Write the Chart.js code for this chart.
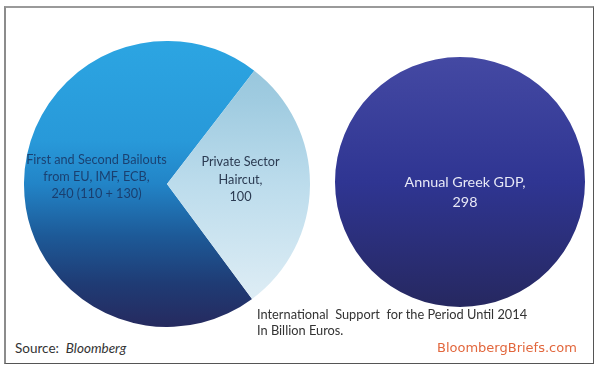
<!DOCTYPE html>
<html>
<head>
<meta charset="utf-8">
<script src="https://cdn.jsdelivr.net/npm/chart.js@4"></script>
<style>
  html, body { margin: 0; padding: 0; background: #fff; }
  #wrap { position: relative; width: 600px; height: 370px; overflow: hidden; font-family: Lato, "Open Sans", sans-serif; }
  #frame { position: absolute; left: 4px; top: 6px; width: 587px; height: 355px;
           border-left: 2px solid #8c8c8c; border-top: 2px solid #9a9a9a;
           border-right: 1px solid #555; border-bottom: 1px solid #555; }
  #pieLeft { position: absolute; left: 24px; top: 41px; }
  #pieRight { position: absolute; left: 335px; top: 57px; }
  .txt { position: absolute; white-space: pre; color: #333; }
  #brand { left: 437px; top: 340px; font-size: 13px; color: #e2673d; font-family: "DejaVu Sans", Verdana, sans-serif; }
</style>
</head>
<body>
<div id="wrap">
  <div id="frame"></div>
  <canvas id="pieLeft" width="286" height="286"></canvas>
  <canvas id="pieRight" width="250" height="250"></canvas>
  <div class="txt" style="left:257px; top:307px; font-size:12.8px; line-height:15.5px;">International  Support  for the Period Until 2014
In Billion Euros.</div>
  <div class="txt" style="left:15px; top:340px; font-size:13.5px;">Source:  <i>Bloomberg</i></div>
  <div class="txt" id="brand">BloombergBriefs.com</div>
</div>
<script>
// values in billion euros
const bailoutLabels = ['First and Second Bailouts from EU, IMF, ECB', 'Private Sector Haircut'];
const bailoutValues = [240, 100];
const bailoutText = [
    ['First and Second Bailouts', 'from EU, IMF, ECB,', '240 (110 + 130)'],
    ['Private Sector', 'Haircut,', '100']
];
const gdpLabels = ['Annual Greek GDP'];
const gdpValues = [298];
const gdpText = [['Annual Greek GDP,', '298']];

function vGradient(chart, stops) {
    const area = chart.chartArea;
    if (!area) return null;
    const g = chart.ctx.createLinearGradient(0, area.top, 0, area.bottom);
    stops.forEach(s => g.addColorStop(s[0], s[1]));
    return g;
}

const leftStops = [
    [[0, '#2ca5e2'], [0.35, '#2899d9'], [0.5, '#2284c7'], [0.68, '#1d5a98'], [0.85, '#1f3b74'], [1, '#262a5f']],
    [[0, '#93c3da'], [0.2, '#9fcbe0'], [0.5, '#bcdcec'], [1, '#e6f1f7']]
];
const rightStops = [[0, '#4449a3'], [0.5, '#2f3592'], [1, '#262860']];

// draws the multi-line labels inside each slice
function sliceLabels(lines, opts) {
    return {
        id: 'sliceLabels',
        afterDatasetsDraw(chart) {
            const ctx = chart.ctx;
            const meta = chart.getDatasetMeta(0);
            meta.data.forEach((arc, i) => {
                const o = opts[i];
                const pos = o.center ? { x: arc.x, y: arc.y } : arc.tooltipPosition();
                const lh = o.lineHeight;
                const n = lines[i].length;
                ctx.save();
                ctx.font = o.font;
                ctx.fillStyle = o.color;
                ctx.textAlign = 'center';
                ctx.textBaseline = 'middle';
                lines[i].forEach((t, k) => {
                    ctx.fillText(t, pos.x + o.dx, pos.y + o.dy + (k - (n - 1) / 2) * lh);
                });
                ctx.restore();
            });
        }
    };
}

new Chart(document.getElementById('pieLeft'), {
    type: 'pie',
    data: {
        labels: bailoutLabels,
        datasets: [{
            data: bailoutValues,
            backgroundColor: ctx => vGradient(ctx.chart, leftStops[ctx.dataIndex]),
            borderWidth: 0
        }]
    },
    options: {
        responsive: false,
        animation: false,
        rotation: 143.5,
        layout: { padding: 0 },
        plugins: { legend: { display: false }, tooltip: { enabled: false } }
    },
    plugins: [sliceLabels(bailoutText, [
        { font: '12.7px Lato', color: 'rgba(25,50,95,0.85)', lineHeight: 17, dx: 1, dy: -6 },
        { font: '12.7px Lato', color: '#2b3b52', lineHeight: 17.5, dx: 2, dy: -5 }
    ])]
});

new Chart(document.getElementById('pieRight'), {
    type: 'pie',
    data: {
        labels: gdpLabels,
        datasets: [{
            data: gdpValues,
            backgroundColor: ctx => vGradient(ctx.chart, rightStops),
            borderWidth: 0
        }]
    },
    options: {
        responsive: false,
        animation: false,
        layout: { padding: 0 },
        plugins: { legend: { display: false }, tooltip: { enabled: false } }
    },
    plugins: [sliceLabels(gdpText, [
        { font: '14.3px Lato', color: '#e8e9f6', lineHeight: 20, dx: 5, dy: 10, center: true }
    ])]
});
</script>
</body>
</html>
